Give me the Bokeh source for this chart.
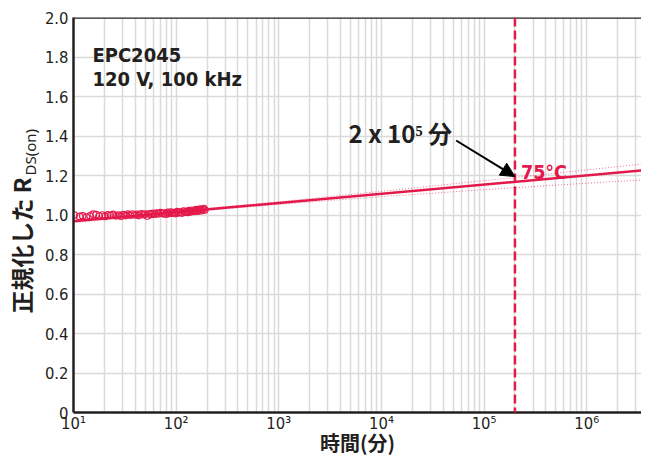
import math
from bokeh.plotting import figure
from bokeh.layouts import row
from bokeh.models import FixedTicker, Span, Label, Arrow, NormalHead, Range1d
from bokeh.core.properties import value
from bokeh.embed import file_html
from bokeh.resources import INLINE

# ---------------- data ----------------
time_min = [10.2, 11.5, 12.3, 13.4, 14.5, 15.6, 16.6, 17.8, 19.2, 20.3,
            21.6, 23.0, 24.4, 25.9, 27.5, 29.0, 30.6, 32.3, 34.0, 35.8,
            37.6, 39.5, 41.5, 43.5, 45.6, 47.8, 50.0, 52.3, 54.7, 57.1,
            59.6, 62.2, 64.9, 67.6, 70.4, 73.3, 76.3, 79.3, 82.4, 85.6,
            88.9, 92.3, 95.7, 99.2, 102.8, 106.5, 110.3, 114.1, 118.0, 122.0,
            126.1, 130.3, 134.5, 138.8, 143.2, 147.7, 152.3, 157.0, 161.7, 166.5,
            171.4, 176.4, 181.5, 186.6, 190.0]
rds_norm = [1.000, 0.993, 0.996, 0.990, 0.996, 1.004, 1.002, 0.995, 1.000, 0.993,
            1.001, 0.998, 1.003, 0.996, 0.999, 0.994, 1.002, 0.997, 1.004, 0.999,
            1.005, 1.000, 1.003, 0.997, 1.006, 1.002, 1.004, 0.995, 1.006, 1.003,
            1.008, 1.004, 1.010, 1.006, 1.012, 1.007, 1.009, 1.004, 1.013, 1.008,
            1.015, 1.010, 1.012, 1.007, 1.017, 1.012, 1.015, 1.010, 1.020, 1.014,
            1.018, 1.013, 1.022, 1.016, 1.024, 1.018, 1.021, 1.027, 1.019, 1.025,
            1.030, 1.022, 1.028, 1.033, 1.025]

fit_time = [10, 3.4e6]
fit_rds = [0.968, 1.225]

band_time = [10, 100, 1e3, 1e4, 1e5, 1e6, 3.4e6]
band_upper = [0.975, 1.018, 1.067, 1.120, 1.174, 1.228, 1.258]
band_lower = [0.961, 1.011, 1.054, 1.093, 1.128, 1.161, 1.177]

eol_time = 2e5

x_ticks = [10, 100, 1000, 10000, 100000, 1000000]
x_tick_labels = ["10¹", "10²", "10³", "10⁴", "10⁵", "10⁶"]
y_ticks = [0, 0.2, 0.4, 0.6, 0.8, 1, 1.2, 1.4, 1.6, 1.8, 2]
y_tick_labels = ["0", "0.2", "0.4", "0.6", "0.8", "1.0", "1.2", "1.4", "1.6", "1.8", "2.0"]

# ---------------- styling / layout ----------------
RED = "#E4194B"
INK = "#231F20"
GRID = "#DADADA"
NARROW = "DejaVu Sans Condensed"
CJK = "Noto Sans CJK JP"

H = 459
LW = 41                                # width of the y-title strip
W = 641 - LW                           # main figure width
FL, FT, FB = 71, 17, 412               # frame edges in picture px
DEC_PX = 103.0                         # pixels per decade
XMIN = 10.0
XMAX = 10 ** (1 + (641 - FL) / DEC_PX)


def px2x(px):
    return 10 ** (1 + (px - FL) / DEC_PX)


def py2y(py):
    return (FB - py) / (FB - FT) * 2.0


p = figure(width=W, height=H, x_axis_type="log",
           x_range=Range1d(XMIN, XMAX), y_range=Range1d(0, 2),
           output_backend="svg", toolbar_location=None,
           min_border_left=FL - LW, min_border_right=0,
           min_border_top=FT, min_border_bottom=H - FB)
p.outline_line_color = None

# axes
minor = [m * 10 ** d for d in range(1, 7) for m in range(2, 10)]
p.xaxis.ticker = FixedTicker(ticks=x_ticks, minor_ticks=minor)
p.xaxis.major_label_overrides = dict(zip(x_ticks, x_tick_labels))
p.yaxis.ticker = FixedTicker(ticks=y_ticks)
p.yaxis.major_label_overrides = dict(zip(y_ticks, y_tick_labels))

for ax in (p.xaxis, p.yaxis):
    ax.axis_line_color = INK
    ax.axis_line_width = 2.5
    ax.major_tick_line_color = None
    ax.minor_tick_line_color = None
    ax.major_tick_out = 0
    ax.minor_tick_out = 0
    ax.major_label_text_font = NARROW
    ax.major_label_text_font_size = "16.5px"
    ax.major_label_text_color = INK
p.xaxis.major_label_standoff = 1
p.yaxis.major_label_standoff = 5

p.xaxis.axis_label = "時間(分)"
p.xaxis.axis_label_text_font = CJK
p.xaxis.axis_label_text_font_style = "bold"
p.xaxis.axis_label_text_font_size = "20px"
p.xaxis.axis_label_text_color = INK
p.xaxis.axis_label_standoff = -8

p.xgrid.grid_line_color = GRID
p.xgrid.grid_line_width = 1.5
p.xgrid.minor_grid_line_color = GRID
p.xgrid.minor_grid_line_width = 1.5
p.ygrid.grid_line_color = GRID
p.ygrid.grid_line_width = 1.5

# top border
p.add_layout(Span(location=2.0, dimension="width", line_color=INK, line_width=2.5))

# confidence band, fit, data
p.line(band_time, band_upper, line_color=RED, line_alpha=0.6, line_width=1, line_dash="1 2")
p.line(band_time, band_lower, line_color=RED, line_alpha=0.6, line_width=1, line_dash="1 2")
p.line(fit_time, fit_rds, line_color=RED, line_width=2.5)
p.scatter(time_min, rds_norm, marker="circle", size=6.5, fill_color=None,
          line_color=RED, line_width=1.2)

# end of life marker
p.add_layout(Span(location=eol_time, dimension="height", line_color=RED,
                  line_width=2.5, line_dash="9 4"))


def lab(text, px, py, size, font, color=INK, style="bold", align="left",
        baseline="alphabetic"):
    p.add_layout(Label(x=px2x(px), y=py2y(py), text=text, text_font=font,
                       text_font_size=size, text_font_style=style, text_color=color,
                       text_align=align, text_baseline=baseline))


lab("EPC2045", 90, 54, "20px", NARROW)
lab("120 V, 100 kHz", 90, 78, "20px", NARROW)
lab("2 x 10⁵ 分", 347, 132, "24px", CJK)
lab("75°C", 520, 172, "19.5px", NARROW, color=RED)

p.add_layout(Arrow(end=NormalHead(size=14, fill_color="black", line_color="black"),
                   x_start=px2x(455), y_start=py2y(140),
                   x_end=eol_time, y_end=py2y(176),
                   line_color="black", line_width=2))

# ---------------- y title strip (R with subscript DS(on)) ----------------
t = figure(width=LW, height=H, x_range=Range1d(0, LW), y_range=Range1d(H - FB, H - FT),
           output_backend="svg", toolbar_location=None,
           x_axis_location=None, y_axis_location=None,
           min_border_left=0, min_border_right=0,
           min_border_top=FT, min_border_bottom=H - FB)
t.outline_line_color = None
t.xgrid.visible = False
t.ygrid.visible = False
t.text(x=[20], y=[H - 313], text=["正規化した R"], angle=math.pi / 2,
       text_align="left", text_baseline="middle", text_font=value(CJK),
       text_font_style="bold", text_font_size="23px", text_color=INK)
t.text(x=[29], y=[H - 175], text=["DS(on)"], angle=math.pi / 2,
       text_align="left", text_baseline="middle", text_font=value("Noto Sans"),
       text_font_style="normal", text_font_size="15px", text_color=INK)

layout = row(t, p, spacing=0)
open("out.html", "w").write(file_html(layout, INLINE))
